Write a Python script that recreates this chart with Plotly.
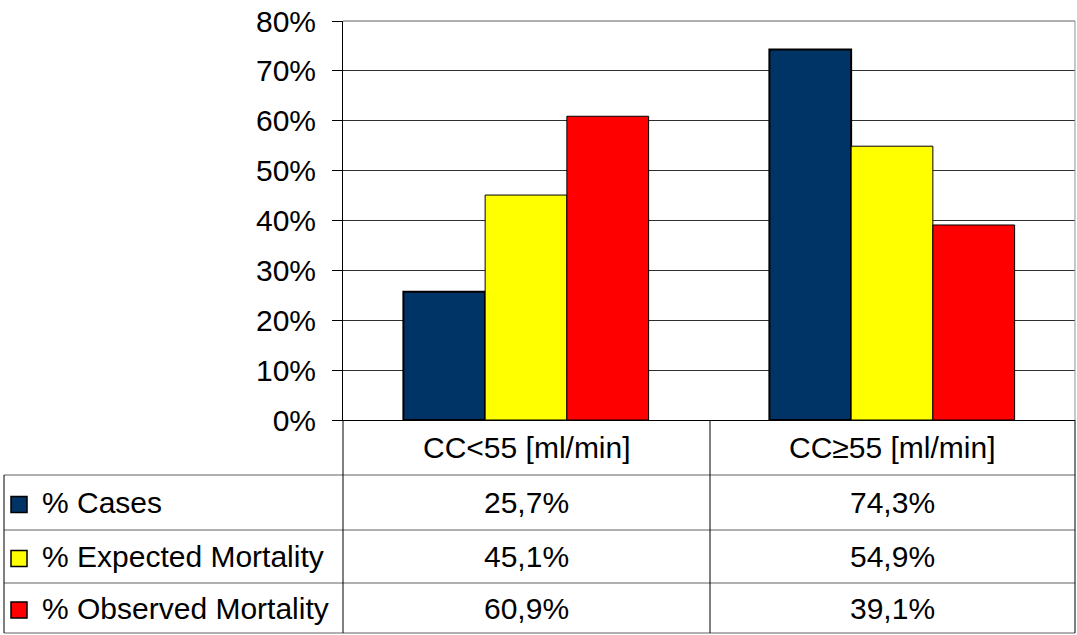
import plotly.graph_objects as go

categories = ["CC<55 [ml/min]", "CC≥55 [ml/min]"]
series_names = ["% Cases", "% Expected Mortality", "% Observed Mortality"]
cases = [25.7, 74.3]
expected = [45.1, 54.9]
observed = [60.9, 39.1]
colors = ["#003366", "#FFFF00", "#FF0000"]
y_ticks = [0, 10, 20, 30, 40, 50, 60, 70, 80]

W, H = 1077, 635
def px(x):
    return x / W
def py(y):
    return 1 - y / H

FONT = "Liberation Sans, Arial, sans-serif"
FS = 30
series_values = [cases, expected, observed]
outline_w = [2, 1, 1]

fig = go.Figure()
for name, vals, col, lw in zip(series_names, series_values, colors, outline_w):
    fig.add_trace(go.Bar(
        x=categories, y=vals, name=name,
        marker=dict(color=col, line=dict(color="black", width=lw)),
        showlegend=False, hoverinfo="x+y+name",
    ))

x0, x1 = 343, 1075
y_top, y_zero = 21, 420
fig.update_layout(
    template="none",
    width=W, height=H, autosize=False,
    margin=dict(l=0, r=0, t=0, b=0, pad=0, autoexpand=False),
    paper_bgcolor="white", plot_bgcolor="white",
    barmode="group", bargap=0.33, bargroupgap=0,
    font=dict(family=FONT, size=FS, color="black"),
    xaxis=dict(domain=[px(x0), px(x1)], showticklabels=False, ticks="",
               showline=True, linecolor="black", linewidth=1, showgrid=False,
               automargin=False, fixedrange=True, zeroline=False),
    yaxis=dict(domain=[py(y_zero), py(y_top)], range=[0, 80],
               tickvals=y_ticks, ticktext=[f"{v}%" for v in y_ticks],
               ticks="outside", ticklen=10, tickcolor="black", tickwidth=1,
               ticklabelstandoff=10,
               showline=True, linecolor="black", linewidth=1,
               showgrid=True, gridcolor="#303030", gridwidth=1,
               tickfont=dict(size=FS, family=FONT, color="black"),
               automargin=False, zeroline=False, fixedrange=True),
)

shapes = []
def line(xa, ya, xb, yb, color="black", width=1):
    shapes.append(dict(type="line", xref="paper", yref="paper",
                       x0=px(xa), y0=py(ya), x1=px(xb), y1=py(yb),
                       line=dict(color=color, width=width)))

row_lines = [475, 530, 583]
y_bottom = 633
x_left = 4
x_mid = 710
x_right = 1075
gray = "#606060"
line(x0, y_top, x1, y_top, gray, 1)
line(x_right, y_top, x_right, y_zero, "#909090", 1)
for yy in row_lines:
    line(x_left, yy, x_right, yy, gray, 1)
line(x_left, y_bottom, x_right, y_bottom, gray, 1)
line(x_left, row_lines[0], x_left, y_bottom)
line(x0, y_zero, x0, y_bottom)
line(x_mid, y_zero, x_mid, y_bottom)
line(x_right, y_zero, x_right, y_bottom)

annotations = []
col_centers = [(x0 + x_mid) / 2, (x_mid + x_right) / 2]
header_center = (y_zero + row_lines[0]) / 2
for cat, cx in zip(categories, col_centers):
    annotations.append(dict(x=px(cx), y=py(header_center), xref="paper", yref="paper",
                            text=cat, showarrow=False, xanchor="center", yanchor="middle",
                            font=dict(size=FS, family=FONT, color="black")))

row_bounds = row_lines + [y_bottom]
for i, (name, vals, col) in enumerate(zip(series_names, series_values, colors)):
    yc = (row_bounds[i] + row_bounds[i + 1]) / 2
    shapes.append(dict(type="rect", xref="paper", yref="paper",
                       x0=px(11), x1=px(27), y0=py(yc - 6), y1=py(yc + 10),
                       fillcolor=col, line=dict(color="black", width=1.5)))
    annotations.append(dict(x=px(40), y=py(yc), xref="paper", yref="paper",
                            text=name, showarrow=False, xanchor="left", yanchor="middle",
                            font=dict(size=FS, family=FONT, color="black")))
    for v, cx in zip(vals, col_centers):
        annotations.append(dict(x=px(cx), y=py(yc), xref="paper", yref="paper",
                                text=f"{v:.1f}%".replace(".", ","), showarrow=False,
                                xanchor="center", yanchor="middle",
                                font=dict(size=FS, family=FONT, color="black")))

fig.update_layout(shapes=shapes, annotations=annotations)
fig.write_html("out.html", config={"displayModeBar": False},
               post_script="document.body.style.margin='0';document.body.style.overflow='hidden';")
